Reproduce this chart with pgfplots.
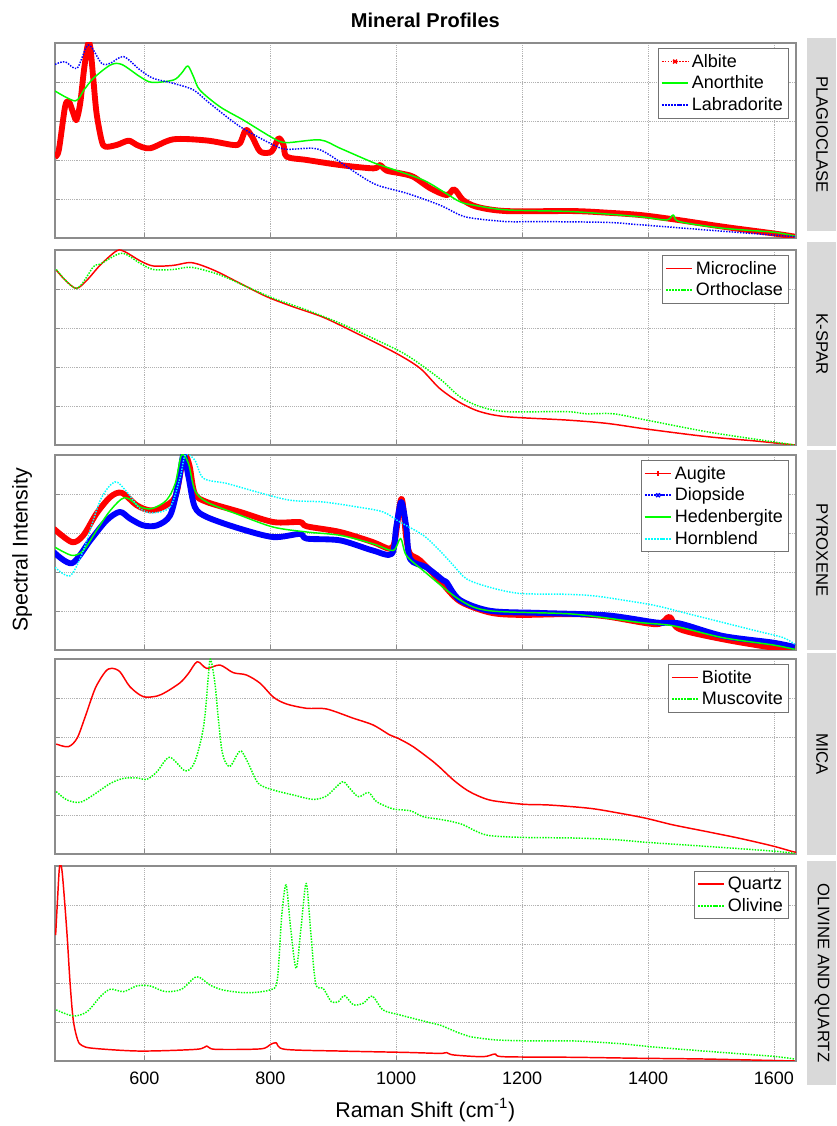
\documentclass[border=0pt]{standalone}
\usepackage{fontspec}
\setmainfont{Liberation Sans}
\usepackage{pgfplots}
\pgfplotsset{compat=1.18}
\definecolor{mred}{rgb}{1,0,0}
\definecolor{mgreen}{rgb}{0,1,0}
\definecolor{mblue}{rgb}{0,0,1}
\definecolor{mcyan}{rgb}{0,1,1}
\pgfplotsset{
  panel/.style={
    scale only axis, width=555.75pt, height=146.25pt,
    xmin=458, xmax=1635, ymin=0, ymax=1,
    xtick={600,800,1000,1200,1400,1600},
    ytick={0,0.2,0.4,0.6,0.8,1},
    yticklabels={},
    xtick pos=left, ytick pos=left,
    grid=major,
    major grid style={black!30, densely dotted, line width=0.6pt},
    axis line style={black!45, line width=0.8pt},
    tick style={black!45, line width=0.6pt},
    tick align=inside, major tick length=4pt,
    /pgf/number format/assume math mode=true,
    /pgf/number format/1000 sep={},
    xticklabel style={font=\fontsize{13.5}{15}\selectfont, yshift=-5pt},
    legend style={at={(0.99,0.972)}, anchor=north east, draw=black!55, fill=white,
      font=\fontsize{13.5}{15}\selectfont, inner sep=2pt, row sep=1pt,
      cells={anchor=west}},
    legend image code/.code={\draw[mark repeat=2,mark phase=2,##1] plot coordinates {(0pt,0pt) (10pt,0pt) (20pt,0pt)};},
    every axis plot/.append style={line join=round, smooth, tension=0.5},
  },
  thin line/.style={line width=1.1pt},
  band/.style={line width=4.4pt},
}
\begin{document}
\begin{tikzpicture}
\useasboundingbox (0,0) rectangle (627pt,844.5pt);
% strips
\fill[black!15] (605.25pt,816pt) rectangle (627pt,671.25pt);
\fill[black!15] (605.25pt,663pt) rectangle (627pt,510pt);
\fill[black!15] (605.25pt,507pt) rectangle (627pt,357pt);
\fill[black!15] (605.25pt,354.75pt) rectangle (627pt,203.25pt);
\fill[black!15] (605.25pt,198.75pt) rectangle (627pt,30.75pt);
\begin{scope}[every node/.style={font=\fontsize{12.5}{14}\selectfont, rotate=-90}]
\node at (616.5pt,743.6pt) {PLAGIOCLASE};
\node at (616.5pt,586.5pt) {K-SPAR};
\node at (616.5pt,432pt) {PYROXENE};
\node at (616.5pt,279pt) {MICA};
\node at (616.5pt,114.75pt) {OLIVINE AND QUARTZ};
\end{scope}
\node[font=\bfseries\fontsize{15}{17}\selectfont] at (319pt,829.5pt) {Mineral Profiles};
\node[font=\fontsize{16}{18}\selectfont, rotate=90] at (16.5pt,432pt) {Spectral Intensity};
\node[font=\fontsize{16}{18}\selectfont] at (319pt,12pt) {Raman Shift (cm\textsuperscript{-1})};

% Panel 1 PLAGIOCLASE
\begin{axis}[panel, at={(41.25pt,812.25pt)}, anchor=north west, xticklabels={}]
\addplot[mred, band, forget plot] table {
458 0.417
464 0.45
474 0.673
480 0.70
487 0.64
492 0.605
498 0.69
504 0.86
510 0.99
514 0.98
519 0.81
524 0.64
532 0.50
538 0.468
556 0.477
575 0.499
588 0.477
609 0.46
646 0.506
699 0.50
741 0.477
752 0.487
761 0.554
771 0.52
784 0.443
802 0.443
813 0.511
821 0.477
826 0.417
858 0.40
911 0.374
964 0.357
974 0.374
985 0.345
1006 0.332
1027 0.314
1054 0.255
1080 0.22
1091 0.25
1098 0.229
1106 0.195
1128 0.16
1175 0.138
1281 0.138
1334 0.13
1387 0.118
1440 0.096
1519 0.058
1598 0.024
1633 0.007
};
\addplot[mgreen, thin line, forget plot] table {
458 0.754
490 0.703
504 0.759
519 0.819
546 0.887
564 0.89
593 0.827
612 0.798
646 0.81
659 0.845
669 0.882
678 0.827
688 0.759
720 0.673
757 0.605
805 0.511
826 0.489
879 0.503
911 0.46
964 0.386
995 0.352
1043 0.297
1075 0.237
1101 0.186
1122 0.169
1175 0.144
1281 0.135
1387 0.109
1429 0.092
1440 0.118
1450 0.084
1519 0.05
1598 0.03
1633 0.01
};
\addplot[mblue, thin line, densely dotted, forget plot] table {
458 0.89
474 0.904
493 0.87
511 0.99
532 0.896
546 0.896
567 0.93
593 0.862
614 0.819
646 0.793
678 0.759
704 0.69
752 0.571
805 0.477
826 0.455
868 0.46
890 0.434
937 0.332
969 0.272
1017 0.229
1069 0.169
1101 0.118
1122 0.101
1175 0.084
1228 0.084
1334 0.08
1387 0.068
1493 0.041
1598 0.015
1633 0.007
};
\addlegendimage{mred, densely dotted, line width=1.2pt, mark=x, mark options={solid, line width=1.1pt}}
\addlegendentry{Albite}
\addlegendimage{mgreen, line width=1.3pt}
\addlegendentry{Anorthite}
\addlegendimage{mblue, densely dotted, line width=1.3pt}
\addlegendentry{Labradorite}
\end{axis}

% Panel 2 K-SPAR
\begin{axis}[panel, at={(41.25pt,657pt)}, anchor=north west, xticklabels={}]
\addplot[mred, thin line, forget plot] table {
460 0.897
474 0.846
492 0.803
509 0.846
530 0.923
556 0.996
569 0.991
593 0.945
614 0.918
646 0.921
675 0.935
710 0.897
752 0.829
794 0.761
836 0.709
884 0.655
937 0.573
1000 0.47
1038 0.393
1069 0.29
1101 0.218
1133 0.171
1175 0.145
1270 0.128
1334 0.111
1397 0.082
1493 0.043
1572 0.02
1633 0.0
};
\addplot[mgreen, thin line, densely dotted, forget plot] table {
460 0.9
492 0.803
519 0.914
530 0.928
564 0.983
593 0.932
614 0.9
646 0.9
675 0.911
720 0.872
762 0.812
805 0.752
858 0.692
911 0.624
963 0.547
1016 0.462
1069 0.34
1101 0.248
1133 0.197
1175 0.171
1270 0.171
1302 0.16
1345 0.16
1397 0.128
1493 0.068
1572 0.029
1633 0.0
};
\addlegendimage{mred, line width=1.3pt}
\addlegendentry{Microcline}
\addlegendimage{mgreen, densely dotted, line width=1.3pt}
\addlegendentry{Orthoclase}
\end{axis}

% Panel 3 PYROXENE
\begin{axis}[panel, at={(41.25pt,503.25pt)}, anchor=north west, xticklabels={}]
\addplot[mred, band, forget plot] table {
456 0.622
485 0.553
503 0.588
524 0.70
546 0.785
564 0.806
588 0.742
609 0.716
630 0.734
649 0.785
659 0.94
665 1.0
672 0.94
680 0.802
699 0.759
752 0.708
805 0.656
847 0.656
858 0.634
911 0.605
963 0.553
990 0.519
998 0.565
1006 0.751
1010 0.76
1016 0.572
1022 0.493
1038 0.459
1069 0.356
1101 0.25
1149 0.192
1196 0.18
1281 0.184
1334 0.172
1413 0.132
1434 0.17
1450 0.107
1519 0.055
1598 0.012
1633 0.003
};
\addplot[mblue, band, forget plot] table {
456 0.502
485 0.445
514 0.562
540 0.665
561 0.708
577 0.674
598 0.639
620 0.639
641 0.691
654 0.854
662 1.0
670 0.888
680 0.734
699 0.682
752 0.622
805 0.579
847 0.595
858 0.571
911 0.562
963 0.51
993 0.493
1000 0.63
1008 0.759
1016 0.63
1022 0.467
1048 0.424
1075 0.356
1080 0.347
1101 0.257
1149 0.201
1228 0.19
1334 0.178
1413 0.141
1450 0.136
1519 0.072
1598 0.038
1633 0.015
};
\addplot[mgreen, thin line, forget plot] table {
458 0.527
485 0.485
503 0.51
524 0.613
546 0.716
569 0.782
593 0.734
612 0.725
635 0.768
649 0.854
659 1.0
670 0.957
680 0.82
699 0.759
752 0.691
805 0.63
858 0.605
911 0.588
963 0.545
995 0.51
1007 0.572
1016 0.485
1043 0.407
1101 0.257
1149 0.201
1281 0.184
1387 0.141
1440 0.124
1519 0.063
1598 0.026
1633 0.003
};
\addplot[mcyan, thin line, densely dotted, forget plot] table {
458 0.424
482 0.381
503 0.51
530 0.768
553 0.862
572 0.811
593 0.725
614 0.703
641 0.734
657 0.888
665 1.0
680 0.974
694 0.88
731 0.854
778 0.811
831 0.768
884 0.759
937 0.734
979 0.708
1006 0.656
1043 0.588
1069 0.51
1091 0.433
1112 0.364
1149 0.321
1196 0.29
1265 0.286
1313 0.278
1366 0.253
1413 0.227
1466 0.184
1519 0.141
1572 0.098
1614 0.064
1633 0.03
};
\addlegendimage{mred, line width=1.3pt, mark=+, mark options={line width=1.2pt}}
\addlegendentry{Augite}
\addlegendimage{mblue, densely dotted, line width=1.3pt, mark=x, mark options={solid, line width=1.2pt}}
\addlegendentry{Diopside}
\addlegendimage{mgreen, line width=1.3pt}
\addlegendentry{Hedenbergite}
\addlegendimage{mcyan, densely dotted, line width=1.3pt}
\addlegendentry{Hornblend}
\end{axis}

% Panel 4 MICA
\begin{axis}[panel, at={(41.25pt,350.25pt)}, anchor=north west, xticklabels={}]
\addplot[mred, thin line, forget plot] table {
460 0.564
479 0.55
493 0.593
506 0.704
522 0.85
538 0.935
548 0.952
561 0.935
577 0.858
598 0.807
620 0.81
635 0.832
657 0.879
670 0.926
684 0.986
699 0.952
720 0.969
741 0.93
762 0.918
784 0.875
805 0.804
826 0.769
858 0.747
889 0.744
932 0.696
963 0.662
990 0.61
1003 0.593
1027 0.55
1059 0.473
1069 0.445
1091 0.379
1112 0.328
1133 0.294
1154 0.273
1202 0.255
1244 0.251
1308 0.234
1355 0.209
1397 0.183
1440 0.149
1493 0.115
1546 0.08
1598 0.041
1630 0.012
1635 0.01
};
\addplot[mgreen, thin line, densely dotted, forget plot] table {
460 0.32
477 0.277
498 0.265
519 0.303
546 0.362
567 0.388
588 0.39
604 0.383
620 0.422
640 0.496
665 0.426
680 0.473
694 0.653
702 0.926
705 1.0
712 0.875
723 0.533
735 0.448
747 0.508
754 0.528
765 0.465
781 0.362
805 0.328
836 0.303
868 0.28
889 0.297
905 0.345
916 0.371
926 0.337
940 0.294
956 0.315
969 0.268
995 0.231
1022 0.222
1043 0.191
1069 0.178
1090 0.165
1107 0.149
1128 0.115
1149 0.094
1202 0.085
1281 0.082
1345 0.074
1397 0.06
1493 0.039
1598 0.015
1633 0.003
};
\addlegendimage{mred, line width=1.3pt}
\addlegendentry{Biotite}
\addlegendimage{mgreen, densely dotted, line width=1.3pt}
\addlegendentry{Muscovite}
\end{axis}

% Panel 5 OLIVINE AND QUARTZ
\begin{axis}[panel, at={(41.25pt,195pt)}, anchor=north west]
\addplot[mred, thin line, forget plot] table {
459 0.646
462 0.826
465 0.99
468 1.0
471 0.911
477 0.655
482 0.398
487 0.21
494 0.108
501 0.079
519 0.065
593 0.051
683 0.06
699 0.077
712 0.06
784 0.062
799 0.082
809 0.094
823 0.06
911 0.051
1016 0.044
1069 0.039
1080 0.043
1091 0.031
1138 0.022
1157 0.036
1170 0.022
1281 0.019
1387 0.014
1493 0.01
1633 0.0
};
\addplot[mgreen, thin line, densely dotted, forget plot] table {
460 0.262
487 0.231
509 0.253
530 0.33
546 0.368
567 0.356
588 0.385
609 0.385
633 0.356
659 0.368
683 0.432
704 0.39
725 0.364
762 0.35
799 0.364
811 0.415
818 0.74
825 0.903
832 0.689
841 0.475
849 0.689
857 0.911
864 0.672
872 0.398
884 0.372
897 0.304
908 0.304
918 0.335
932 0.288
948 0.297
962 0.333
979 0.262
1006 0.236
1053 0.197
1069 0.185
1101 0.142
1117 0.125
1159 0.108
1218 0.103
1281 0.103
1355 0.089
1408 0.072
1493 0.05
1598 0.024
1633 0.01
};
\addlegendimage{mred, line width=1.3pt}
\addlegendentry{Quartz}
\addlegendimage{mgreen, densely dotted, line width=1.3pt}
\addlegendentry{Olivine}
\end{axis}
\end{tikzpicture}
\end{document}
